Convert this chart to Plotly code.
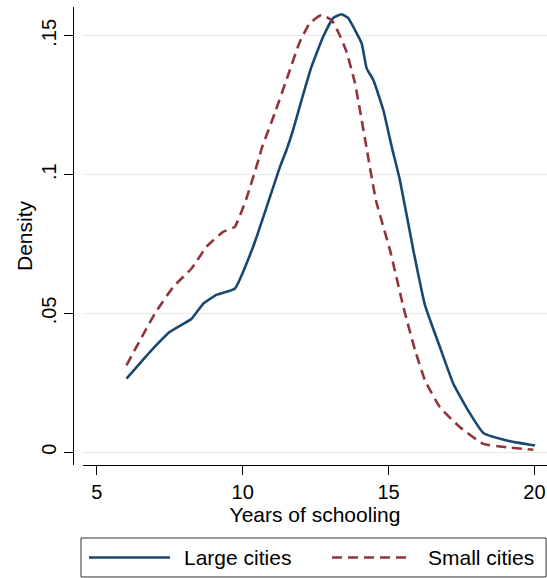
import plotly.graph_objects as go

# Kernel density estimates of years of schooling
large_x = [6.02, 6.82, 7.50, 8.25, 8.65, 9.10, 9.73, 10.36, 11.28, 11.50, 11.73, 12.02, 12.36,
           12.76, 13.10, 13.39, 13.62, 13.85, 14.08, 14.25, 14.48, 14.82, 15.11, 15.39,
           15.85, 16.25, 16.76, 17.22, 17.73, 18.25, 19.05, 20.02]
large_y = [0.0265, 0.0361, 0.0433, 0.0481, 0.0535, 0.0567, 0.0589, 0.0740, 0.1028, 0.1088,
           0.1161, 0.1269, 0.1389, 0.1497, 0.1564, 0.1578, 0.1564, 0.1521, 0.1473, 0.1383,
           0.1341, 0.1233, 0.1100, 0.0980, 0.0728, 0.0529, 0.0379, 0.0247, 0.0150, 0.0069,
           0.0042, 0.0024]

small_x = [6.02, 6.99, 7.62, 8.25, 8.76, 9.33, 9.73, 10.13, 10.59, 10.65, 11.10, 11.56,
           11.96, 12.30, 12.70, 13.05, 13.27, 13.56, 13.85, 14.02, 14.25, 14.57, 15.05,
           15.51, 15.91, 16.25, 16.76, 17.45, 18.25, 19.05, 19.96]
small_y = [0.0313, 0.0499, 0.0595, 0.0662, 0.0740, 0.0794, 0.0812, 0.0914, 0.1070, 0.1094,
           0.1221, 0.1359, 0.1479, 0.1545, 0.1575, 0.1557, 0.1515, 0.1443, 0.1329, 0.1233,
           0.1094, 0.0907, 0.0728, 0.0523, 0.0367, 0.0259, 0.0162, 0.0090, 0.0030, 0.0018,
           0.0009]

x_ticks = [5, 10, 15, 20]
y_ticks = [0, 0.05, 0.10, 0.15]
y_tick_text = ["0", ".05", ".1", ".15"]

BLUE = "#1a476f"
RED = "#90353b"
FONT = "Liberation Sans, Arial, Helvetica, sans-serif"
DASH = "10px,6px"
TICK_SIZE = 20
TEXT_SIZE = 21

fig = go.Figure()
fig.add_trace(go.Scatter(x=large_x, y=large_y, mode="lines", name="Large cities",
                         line=dict(color=BLUE, width=2.6, shape="spline", smoothing=0.4),
                         showlegend=False))
fig.add_trace(go.Scatter(x=small_x, y=small_y, mode="lines", name="Small cities",
                         line=dict(color=RED, width=2.6, dash=DASH, shape="spline", smoothing=0.4),
                         showlegend=False))

# Legend box drawn below the plot
fig.add_shape(type="rect", xref="paper", yref="paper",
              x0=-0.0043, x1=0.998, y0=-0.2445, y1=-0.1594,
              line=dict(color="#333333", width=1), fillcolor="white")
ly = -0.2020
fig.add_shape(type="line", xref="paper", yref="paper",
              x0=(89 - 83) / 464, x1=(170 - 83) / 464, y0=ly, y1=ly,
              line=dict(color=BLUE, width=2.6))
fig.add_shape(type="line", xref="paper", yref="paper",
              x0=(332 - 83) / 464, x1=(410 - 83) / 464, y0=ly, y1=ly,
              line=dict(color=RED, width=2.6, dash=DASH))
fig.add_annotation(xref="paper", yref="paper", x=(182 - 83) / 464, y=ly,
                   text="Large cities", showarrow=False, xanchor="left", yanchor="middle",
                   font=dict(size=TEXT_SIZE, color="black", family=FONT))
fig.add_annotation(xref="paper", yref="paper", x=(426 - 83) / 464, y=ly,
                   text="Small cities", showarrow=False, xanchor="left", yanchor="middle",
                   font=dict(size=TEXT_SIZE, color="black", family=FONT))

# Y-axis title
fig.add_annotation(xref="paper", yref="paper", x=(24 - 83) / 464, y=0.5,
                   text="Density", showarrow=False, textangle=-90,
                   xanchor="center", yanchor="middle",
                   font=dict(size=TEXT_SIZE, color="black", family=FONT))

fig.update_layout(
    width=547, height=578,
    margin=dict(l=83, r=0, t=7, b=113),
    plot_bgcolor="white", paper_bgcolor="white",
    font=dict(family=FONT, size=TICK_SIZE, color="black"),
    xaxis=dict(range=[4.53, 20.43], tickvals=x_ticks, showgrid=False, zeroline=False,
               showline=True, linecolor="black", linewidth=1.2,
               ticks="outside", ticklen=9, tickcolor="black", tickwidth=1.2,
               tickfont=dict(size=TICK_SIZE),
               title=dict(text="Years of schooling", font=dict(size=TEXT_SIZE), standoff=2)),
    yaxis=dict(range=[-0.0046, 0.1604], tickvals=y_ticks, ticktext=y_tick_text,
               showgrid=True, gridcolor="#eaeaea", gridwidth=1.2, zeroline=False,
               showline=True, linecolor="black", linewidth=1.2,
               ticks="outside", ticklen=9, tickcolor="black", tickwidth=1.2,
               tickangle=-90, tickfont=dict(size=TICK_SIZE),
               anchor="free", position=0, shift=-10),
)

fig.write_html("out.html")
